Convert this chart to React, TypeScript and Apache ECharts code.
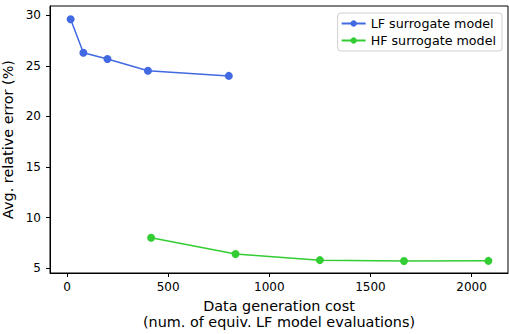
import React, { useEffect, useRef } from "react";
import * as echarts from "echarts";

const lfCost = [18, 81, 200, 400, 800];
const lfError = [29.6, 26.28, 25.66, 24.5, 24.0];
const hfCost = [416, 833, 1250, 1666, 2083];
const hfError = [8.02, 6.41, 5.81, 5.72, 5.74];
const xTicks = [0, 500, 1000, 1500, 2000];
const yTicks = [5, 10, 15, 20, 25, 30];

const FONT = "DejaVu Sans";

export default function App() {
  const ref = useRef<HTMLDivElement>(null);
  useEffect(() => {
    const chart = echarts.init(ref.current!, null, { renderer: "svg" });
    chart.setOption({
      animation: false,
      backgroundColor: "#fff",
      textStyle: { fontFamily: FONT },
      grid: {
        left: 50,
        top: 6,
        right: 1,
        bottom: 61,
        show: true,
        borderColor: "#000",
        borderWidth: 1,
        containLabel: false,
        outerBoundsMode: "none",
      },
      legend: {
        right: 7,
        top: 13,
        orient: "vertical",
        itemWidth: 24,
        itemHeight: 8,
        itemGap: 4,
        padding: [4, 6, 4, 3],
        backgroundColor: "#fff",
        borderColor: "#d0d0d0",
        borderWidth: 1,
        borderRadius: 3,
        textStyle: { fontFamily: FONT, fontSize: 12.7, color: "#000" },
        data: ["LF surrogate model", "HF surrogate model"],
      },
      xAxis: {
        type: "value",
        min: -84,
        max: 2180,
        splitLine: { show: false },
        axisLine: { show: true, onZero: false, lineStyle: { color: "#000", width: 1 } },
        axisTick: {
          show: true,
          inside: false,
          customValues: xTicks,
          length: 4,
          lineStyle: { color: "#000", width: 1 },
        },
        axisLabel: {
          customValues: xTicks,
          formatter: (v: number) => String(v),
          fontFamily: FONT,
          fontSize: 12,
          color: "#000",
          margin: 8,
        },
        name: "Data generation cost\n(num. of equiv. LF model evaluations)",
        nameLocation: "middle",
        nameGap: 25,
        nameTextStyle: {
          fontFamily: FONT,
          fontSize: 14.4,
          color: "#000",
          lineHeight: 16,
          verticalAlign: "top",
        },
      },
      yAxis: {
        type: "value",
        min: 4.54,
        max: 30.9,
        splitLine: { show: false },
        axisLine: { show: true, onZero: false, lineStyle: { color: "#000", width: 1 } },
        axisTick: {
          show: true,
          inside: false,
          customValues: yTicks,
          length: 4,
          lineStyle: { color: "#000", width: 1 },
        },
        axisLabel: {
          customValues: yTicks,
          fontFamily: FONT,
          fontSize: 12,
          color: "#000",
          margin: 9,
        },
        name: "Avg. relative error (%)",
        nameLocation: "middle",
        nameGap: 22,
        nameTextStyle: { fontFamily: FONT, fontSize: 14.4, color: "#000" },
      },
      series: [
        {
          name: "LF surrogate model",
          type: "line",
          data: lfCost.map((x, i) => [x, lfError[i]]),
          symbol: "circle",
          symbolSize: 8,
          color: "#4169E1",
          lineStyle: { width: 1.5, color: "#4169E1" },
          itemStyle: { color: "#4169E1" },
        },
        {
          name: "HF surrogate model",
          type: "line",
          data: hfCost.map((x, i) => [x, hfError[i]]),
          symbol: "circle",
          symbolSize: 8,
          color: "#32CD32",
          lineStyle: { width: 1.5, color: "#32CD32" },
          itemStyle: { color: "#32CD32" },
        },
      ],
    });
    return () => chart.dispose();
  }, []);
  return <div ref={ref} style={{ width: 509, height: 334, position: "absolute", left: 0, top: 0 }} />;
}
